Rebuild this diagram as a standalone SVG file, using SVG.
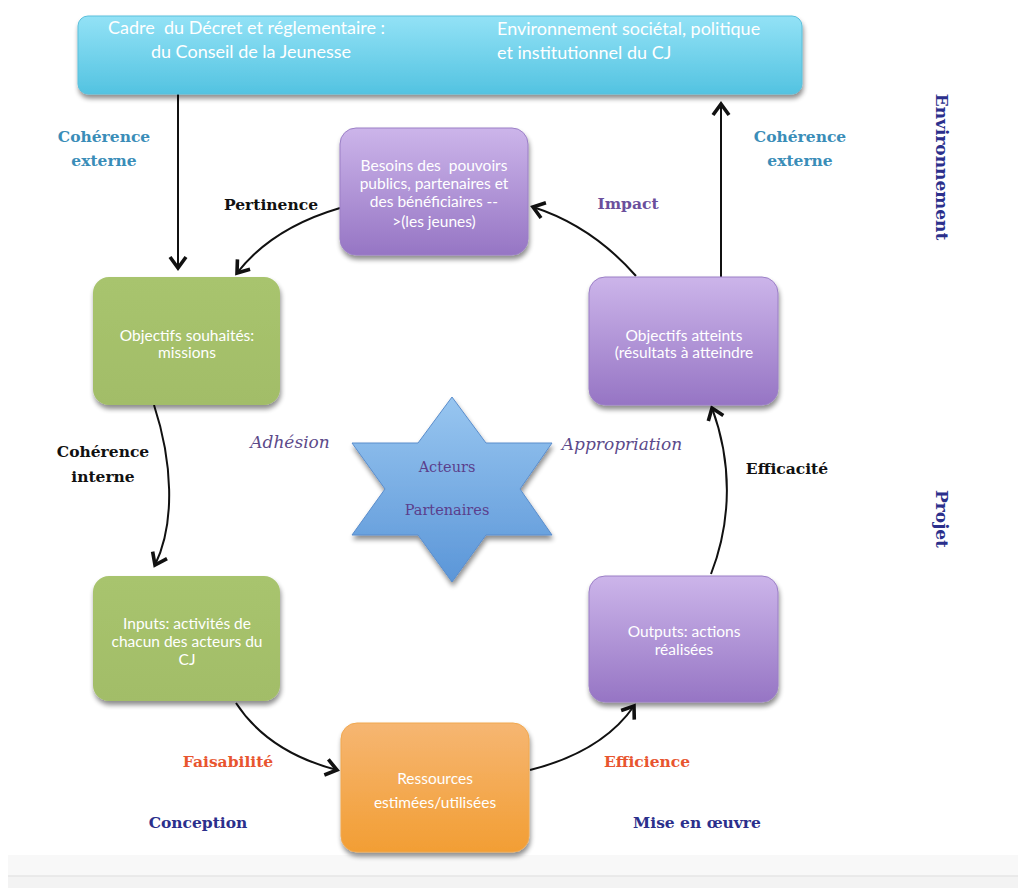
<svg xmlns="http://www.w3.org/2000/svg" width="1018" height="888" viewBox="0 0 1018 888">
<style>
.nt{font-family:Lato,"Open Sans",sans-serif;font-size:15.5px;fill:#ffffff;text-anchor:middle;white-space:pre}
.tt{font-family:Lato,"Open Sans",sans-serif;font-size:18px;fill:#ffffff;white-space:pre}
.lb{font-family:"DejaVu Serif","Liberation Serif",serif;font-weight:bold;font-size:15.5px}
.it{font-family:"DejaVu Serif","Liberation Serif",serif;font-style:italic;font-size:17px;fill:#5c4a8a}
.st{font-family:"DejaVu Serif","Liberation Serif",serif;font-size:14.5px;fill:#5b3f8c;text-anchor:middle}
.con{fill:none;stroke:#111;stroke-width:2}
</style>
<defs>
<linearGradient id="gCyan" x1="0" y1="0" x2="0" y2="1"><stop offset="0" stop-color="#93e2f6"/><stop offset="1" stop-color="#53c3e1"/></linearGradient>
<linearGradient id="gPur" x1="0" y1="0" x2="0" y2="1"><stop offset="0" stop-color="#ccb5ea"/><stop offset="1" stop-color="#9675c4"/></linearGradient>
<linearGradient id="gGrn" x1="0" y1="0" x2="0" y2="1"><stop offset="0" stop-color="#a8c46e"/><stop offset="1" stop-color="#a2bd68"/></linearGradient>
<linearGradient id="gOr" x1="0" y1="0" x2="0" y2="1"><stop offset="0" stop-color="#f6b672"/><stop offset="1" stop-color="#f29e34"/></linearGradient>
<linearGradient id="gStar" x1="0" y1="0" x2="0" y2="1"><stop offset="0" stop-color="#98c6f0"/><stop offset="1" stop-color="#5b96d8"/></linearGradient>
<filter id="sh" x="-10%" y="-10%" width="125%" height="130%"><feGaussianBlur in="SourceAlpha" stdDeviation="2.5"/><feOffset dx="1" dy="4" result="b"/><feComponentTransfer><feFuncA type="linear" slope="0.45"/></feComponentTransfer><feMerge><feMergeNode/><feMergeNode in="SourceGraphic"/></feMerge></filter>
<marker id="ah" markerWidth="20" markerHeight="20" refX="14" refY="10" orient="auto" markerUnits="userSpaceOnUse"><path d="M3,2 L14,10 L3,18" fill="none" stroke="#111" stroke-width="3.6" stroke-linejoin="miter"/></marker>
</defs>
<rect width="1018" height="888" fill="#ffffff"/>
<rect x="8" y="855" width="1010" height="33" fill="#f8f8f8"/>
<rect x="8" y="876" width="1010" height="12" fill="#f3f3f3"/>
<line x1="8" y1="876" x2="1018" y2="876" stroke="#e6e6e6" stroke-width="1.5"/>

<g id="connectors">
<path class="con" d="M178,94 L178,268" marker-end="url(#ah)"/>
<path class="con" d="M721,277 L721,104" marker-end="url(#ah)"/>
<path class="con" d="M340,208 Q272,228 237,273" marker-end="url(#ah)"/>
<path class="con" d="M636,276 Q592,226 533,207" marker-end="url(#ah)"/>
<path class="con" d="M154,405 C172,460 176,522 155,565" marker-end="url(#ah)"/>
<path class="con" d="M236,703 Q268,752 337,770" marker-end="url(#ah)"/>
<path class="con" d="M530,770 Q602,752 634,706" marker-end="url(#ah)"/>
<path class="con" d="M711,574 C732,520 732,462 712,408" marker-end="url(#ah)"/>
</g>

<g id="top">
<rect x="78" y="16" width="724" height="78" rx="10" fill="url(#gCyan)" stroke="#5bbfdb" stroke-width="1" filter="url(#sh)"/>
<text class="tt" x="108" y="34">Cadre  du Décret et réglementaire :</text>
<text class="tt" x="251" y="58" text-anchor="middle">du Conseil de la Jeunesse</text>
<text class="tt" x="497" y="35">Environnement sociétal, politique</text>
<text class="tt" x="497" y="59">et institutionnel du CJ</text>
</g>

<g id="besoins">
<rect x="340" y="128" width="188" height="127" rx="16" fill="url(#gPur)" stroke="#9b7fc6" filter="url(#sh)"/>
<text class="nt" x="434" y="171">Besoins des  pouvoirs</text>
<text class="nt" x="434" y="189">publics, partenaires et</text>
<text class="nt" x="434" y="207">des bénéficiaires --</text>
<text class="nt" x="434" y="227">&gt;(les jeunes)</text>
</g>

<g id="obj-souhaites">
<rect x="93" y="277" width="187" height="128" rx="16" fill="url(#gGrn)" filter="url(#sh)"/>
<text class="nt" x="187" y="341">Objectifs souhaités:</text>
<text class="nt" x="187" y="358">missions</text>
</g>

<g id="obj-atteints">
<rect x="589" y="277" width="189" height="128" rx="16" fill="url(#gPur)" stroke="#9b7fc6" filter="url(#sh)"/>
<text class="nt" x="684" y="341">Objectifs atteints</text>
<text class="nt" x="684" y="358">(résultats à atteindre</text>
</g>

<g id="inputs">
<rect x="93" y="576" width="187" height="125" rx="16" fill="url(#gGrn)" filter="url(#sh)"/>
<text class="nt" x="187" y="629">Inputs: activités de</text>
<text class="nt" x="187" y="647">chacun des acteurs du</text>
<text class="nt" x="187" y="665">CJ</text>
</g>

<g id="outputs">
<rect x="589" y="576" width="189" height="126" rx="16" fill="url(#gPur)" stroke="#9b7fc6" filter="url(#sh)"/>
<text class="nt" x="684" y="637">Outputs: actions</text>
<text class="nt" x="684" y="655">réalisées</text>
</g>

<g id="ressources">
<rect x="341" y="723" width="188" height="129" rx="16" fill="url(#gOr)" stroke="#f0a850" filter="url(#sh)"/>
<text class="nt" x="435" y="784">Ressources</text>
<text class="nt" x="435" y="808">estimées/utilisées</text>
</g>

<g id="star">
<polygon points="452,397 486,443 552,443 520,489 552,535 486,535 452,582 418,535 352,535 385,489 352,443 418,443" fill="url(#gStar)" stroke="#5a8dcc" stroke-width="1" filter="url(#sh)"/>
<text class="st" x="447" y="472">Acteurs</text>
<text class="st" x="447" y="515">Partenaires</text>
</g>

<g id="labels">
<text class="lb" x="104" y="142" text-anchor="middle" fill="#3a8db8">Cohérence</text>
<text class="lb" x="104" y="166" text-anchor="middle" fill="#3a8db8">externe</text>
<text class="lb" x="800" y="142" text-anchor="middle" fill="#3a8db8">Cohérence</text>
<text class="lb" x="800" y="166" text-anchor="middle" fill="#3a8db8">externe</text>
<text class="lb" x="271" y="210" text-anchor="middle" fill="#111">Pertinence</text>
<text class="lb" x="628" y="209" text-anchor="middle" fill="#6b4f9c">Impact</text>
<text class="it" x="290" y="448" text-anchor="middle">Adhésion</text>
<text class="it" x="622" y="450" text-anchor="middle">Appropriation</text>
<text class="lb" x="103" y="457" text-anchor="middle" fill="#111">Cohérence</text>
<text class="lb" x="103" y="482" text-anchor="middle" fill="#111">interne</text>
<text class="lb" x="787" y="474" text-anchor="middle" fill="#111">Efficacité</text>
<text class="lb" x="228" y="767" text-anchor="middle" fill="#e8552f">Faisabilité</text>
<text class="lb" x="647" y="767" text-anchor="middle" fill="#e8552f">Efficience</text>
<text class="lb" x="198" y="828" text-anchor="middle" fill="#2b2f8c">Conception</text>
<text class="lb" x="697" y="828" text-anchor="middle" fill="#2b2f8c">Mise en œuvre</text>
<text class="lb" transform="translate(936,167) rotate(90)" text-anchor="middle" fill="#2b2f8c" style="font-size:17px">Environnement</text>
<text class="lb" transform="translate(936,519) rotate(90)" text-anchor="middle" fill="#2b2f8c" style="font-size:17px">Projet</text>
</g>
</svg>
